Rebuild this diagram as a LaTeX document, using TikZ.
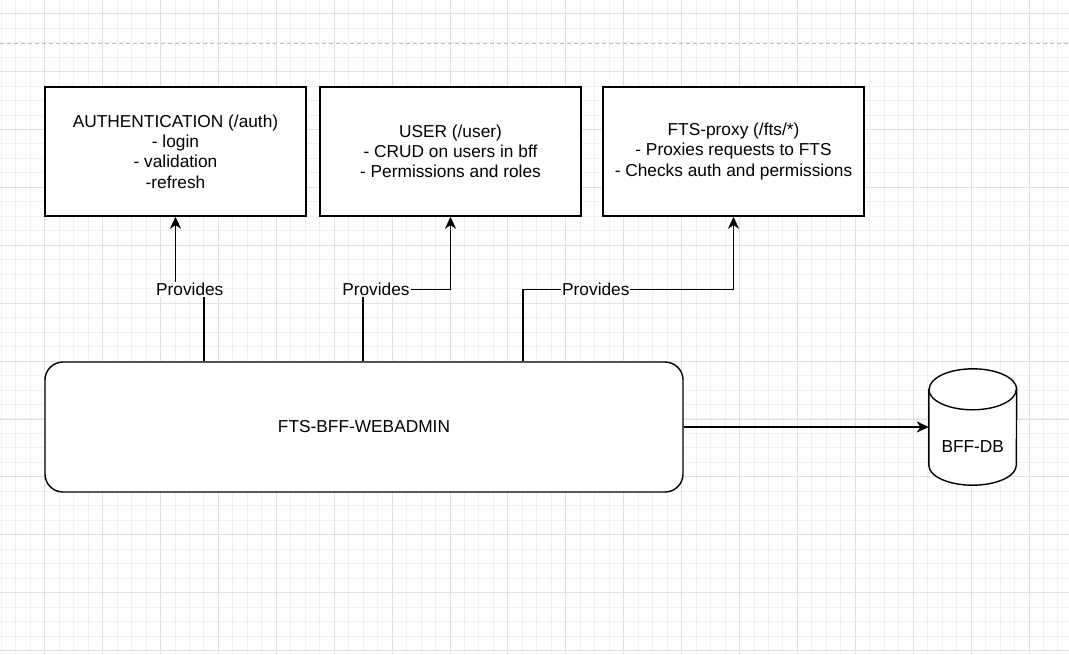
\documentclass[tikz,border=0pt]{standalone}
\usepackage{fontspec}
\setmainfont{Liberation Sans}
\usepackage{tikz}
\usetikzlibrary{positioning,arrows.meta,calc}
\definecolor{gridmaj}{RGB}{224,224,224}
\definecolor{gridmin}{RGB}{240,240,240}
\definecolor{sepline}{RGB}{190,190,190}

\begin{document}
\begin{tikzpicture}
	[x=1pt,y=-1pt,
	bx/.style={draw=black,fill=white,line width=1.4pt,minimum width=261,minimum height=129,align=center,inner sep=0pt},
	lb/.style={fill=white,inner sep=1pt},
	cn/.style={line width=1.4pt,-{Stealth[length=12pt,width=11pt,inset=3.5pt]}},
	dbline/.style={draw=black,line width=1.4pt},
	font=\fontsize{17.3}{20.3}\selectfont]
	\useasboundingbox (0,0) rectangle (1069,654);
	%%%%% GRID
	\foreach \i in {0,...,73}
	{
	\draw[gridmin,line width=1pt] ({1.3+14.475*\i},0) -- ({1.3+14.475*\i},654);
	};
	\foreach \j in {1,...,45}
	{
	\draw[gridmin,line width=1pt] (0,{-0.8+14.475*\j}) -- (1069,{-0.8+14.475*\j});
	};
	\foreach \i in {0,...,17}
	{
	\draw[gridmaj,line width=1pt] ({44.7+57.9*\i},0) -- ({44.7+57.9*\i},654);
	};
	\foreach \j in {0,...,11}
	{
	\draw[gridmaj,line width=1pt] (0,{13.7+57.9*\j}) -- (1069,{13.7+57.9*\j});
	};
	\draw[sepline,line width=1pt,dash pattern=on 4pt off 3pt] (0,43.3) -- (1069,43.3);
	%%%%% ENDPOINTS
	\node[bx] (auth) at (175.5,151.5) {AUTHENTICATION (/auth)\\- login\\- validation\\-refresh};
	\node[bx] (user) at (450.5,151.5) {USER (/user)\\- CRUD on users in bff\\- Permissions and roles};
	\node[bx] (proxy) at (733.5,151.5) {FTS-proxy (/fts/*)\\- Proxies requests to FTS\\- Checks auth and permissions};
	%%%%% SERVICE
	\node[bx,rounded corners=18,minimum width=638,minimum height=130] (bff) at (364,427) {FTS-BFF-WEBADMIN};
	\draw[cn] ([xshift=-160pt]bff.north) -- ++(0,-72) -| (auth.south) node[lb,pos=0.25] {Provides};
	\draw[cn] ([xshift=-1pt]bff.north) -- ++(0,-72) -| (user.south) node[lb,pos=0.074] {Provides};
	\draw[cn] ([xshift=159pt]bff.north) -- ++(0,-72) -| (proxy.south) node[lb,pos=0.173] {Provides};
	%%%%% DATABASE
	\node[minimum width=87.5,minimum height=116,inner sep=0pt] (db) at (972.75,427) {};
	\draw[dbline,fill=white] ([yshift=-20.5pt]db.north west) -- ([yshift=20pt]db.south west)
		arc[start angle=180,end angle=360,x radius=43.75pt,y radius=20pt]
		-- ([yshift=-20.5pt]db.north east)
		arc[start angle=0,end angle=180,x radius=43.75pt,y radius=20.5pt] -- cycle;
	\draw[dbline] ([yshift=-20.5pt]db.north west) arc[start angle=180,end angle=360,x radius=43.75pt,y radius=20.5pt];
	\node (dbtxt) at ([yshift=-20pt]db.center) {BFF-DB};
	\draw[cn] (bff.east) -- (bff.east -| db.west);
\end{tikzpicture}
\end{document}
